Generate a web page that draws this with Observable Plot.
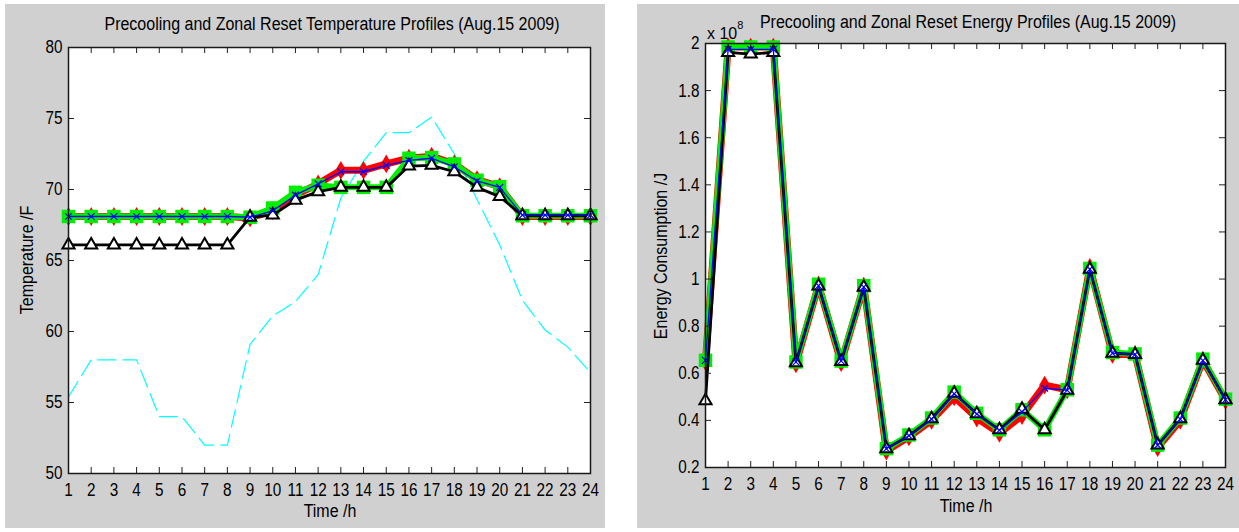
<!DOCTYPE html>
<html>
<head>
<meta charset="utf-8">
<script src="https://cdn.jsdelivr.net/npm/d3@7"></script>
<script src="https://cdn.jsdelivr.net/npm/@observablehq/plot@0.6"></script>
<style>
  body { margin: 0; background: #fff; width: 1239px; height: 532px; overflow: hidden; position: relative;
         font-family: "Liberation Sans", Arial, sans-serif; color: #000; }
  .panel { position: absolute; background: #d0d0d0; }
  .txt { position: absolute; font-size: 16px; line-height: 16px; white-space: nowrap; }
  .center { transform: translateX(-50%) scaleY(1.1); }
  .ylab { transform: translate(-50%, -50%) rotate(-90deg) scaleY(1.1); }
  .chart { position: absolute; }
  sup { font-size: 11px; position: relative; top: -4px; }
</style>
</head>
<body>
<div class="panel" style="left:5px;top:4px;width:600px;height:524px"></div>
<div class="panel" style="left:637px;top:4px;width:602px;height:524px"></div>

<div class="txt center" style="left:332px;top:16px">Precooling and Zonal Reset Temperature Profiles (Aug.15 2009)</div>
<div class="txt center" style="left:968px;top:14px">Precooling and Zonal Reset Energy Profiles (Aug.15 2009)</div>
<div class="txt" style="left:707px;top:21px">x 10<sup>8</sup></div>

<div class="chart" id="temp" style="left:5px;top:36px"></div>
<div class="chart" id="energy" style="left:637px;top:32px"></div>

<div class="txt center" style="left:330px;top:503px">Time /h</div>
<div class="txt center" style="left:966px;top:498px">Time /h</div>
<div class="txt ylab" style="left:27px;top:260px">Temperature /F</div>
<div class="txt ylab" style="left:661px;top:256px">Energy Consumption /J</div>

<script>
// Hour of day
const hours = [1, 2, 3, 4, 5, 6, 7, 8, 9, 10, 11, 12, 13, 14, 15, 16, 17, 18, 19, 20, 21, 22, 23, 24];

// Zone temperature profiles (°F)
const tempRed   = [68.1, 68.1, 68.1, 68.1, 68.1, 68.1, 68.1, 68.1, 68.0, 68.5, 69.6, 70.4, 71.35, 71.35, 71.8, 72.2, 72.35, 71.8, 70.7, 70.2, 68.1, 68.1, 68.1, 68.1];
const tempGreen = [68.1, 68.1, 68.1, 68.1, 68.1, 68.1, 68.1, 68.1, 68.05, 68.7, 69.8, 70.3, 70.15, 70.15, 70.15, 72.2, 72.25, 71.8, 70.65, 70.2, 68.15, 68.15, 68.15, 68.15];
const tempBlack = [66.1, 66.1, 66.1, 66.1, 66.1, 66.1, 66.1, 66.1, 68.05, 68.2, 69.25, 69.85, 70.15, 70.15, 70.15, 71.65, 71.7, 71.25, 70.15, 69.5, 68.15, 68.15, 68.15, 68.15];
const tempBlue  = [68.1, 68.1, 68.1, 68.1, 68.1, 68.1, 68.1, 68.1, 68.05, 68.5, 69.6, 70.4, 71.25, 71.25, 71.7, 72.05, 72.2, 71.6, 70.6, 70.15, 68.2, 68.2, 68.2, 68.2];
// Outdoor dry-bulb temperature (°F)
const tempOutdoor = [55.4, 58, 58, 58, 54, 54, 52, 52, 59.1, 61.1, 62.1, 64, 69.4, 72, 74, 74, 75.1, 72.5, 69.3, 66.1, 62.2, 60.1, 58.9, 57.1];

// Hourly energy consumption (x 10^8 J)
const energyRed   = [0.65, 1.985, 1.985, 1.985, 0.64, 0.975, 0.645, 0.97, 0.27, 0.33, 0.40, 0.50, 0.41, 0.345, 0.42, 0.55, 0.53, 1.05, 0.68, 0.68, 0.285, 0.40, 0.655, 0.485];
const energyGreen = [0.655, 1.985, 1.985, 1.985, 0.648, 0.978, 0.652, 0.972, 0.28, 0.338, 0.41, 0.52, 0.43, 0.36, 0.445, 0.36, 0.53, 1.045, 0.688, 0.682, 0.295, 0.41, 0.66, 0.49];
const energyBlack = [0.483, 1.962, 1.955, 1.962, 0.645, 0.97, 0.65, 0.965, 0.28, 0.335, 0.407, 0.515, 0.428, 0.36, 0.447, 0.36, 0.528, 1.042, 0.685, 0.68, 0.295, 0.407, 0.655, 0.488];
const energyBlue  = [0.655, 1.975, 1.975, 1.975, 0.648, 0.972, 0.652, 0.966, 0.28, 0.335, 0.405, 0.513, 0.427, 0.358, 0.436, 0.537, 0.528, 1.042, 0.685, 0.68, 0.295, 0.405, 0.654, 0.488];

// Axis ticks
const hourTicks = [1, 2, 3, 4, 5, 6, 7, 8, 9, 10, 11, 12, 13, 14, 15, 16, 17, 18, 19, 20, 21, 22, 23, 24];
const tempTicks = [50, 55, 60, 65, 70, 75, 80];
const energyTicks = [0.2, 0.4, 0.6, 0.8, 1, 1.2, 1.4, 1.6, 1.8, 2];

const FONT = '"Liberation Sans", Arial, sans-serif';
const rows = (vals) => hours.map((h, i) => ({h, v: vals[i]}));

// One MATLAB-style series: connecting line plus its markers
function series(vals, s) {
  const data = rows(vals);
  const out = [Plot.line(data, {x: "h", y: "v", stroke: s.color, strokeWidth: s.lw, strokeLinejoin: "round", strokeLinecap: "round"})];
  if (s.symbol) {
    out.push(Plot.dot(data, {x: "h", y: "v", symbol: s.symbol, r: s.r,
      fill: s.fill ?? "none", stroke: s.stroke ?? "none", strokeWidth: s.sw ?? 1}));
  }
  return out;
}

function chart({width, height, margins, yDomain, yTicks, extra, sets}) {
  const [mt, mr, mb, ml] = margins;
  const innerW = width - ml - mr;
  const innerH = height - mt - mb;
  const tick = 6;
  const svg = Plot.plot({
    width, height,
    marginTop: mt, marginRight: mr, marginBottom: mb, marginLeft: ml,
    style: {background: "transparent", fontFamily: FONT, fontSize: "17px", color: "#000"},
    x: {domain: [1, 24], label: null},
    y: {domain: yDomain, label: null},
    marks: [
      Plot.frame({fill: "#fff", stroke: "none"}),
      ...(extra || []),
      ...sets.flatMap(([vals, s]) => series(vals, s)),
      // inward ticks on all four sides
      Plot.tickX(hourTicks, {x: d => d, insetTop: innerH - tick, stroke: "#222"}),
      Plot.tickX(hourTicks, {x: d => d, insetBottom: innerH - tick, stroke: "#222"}),
      Plot.tickY(yTicks, {y: d => d, insetRight: innerW - tick, stroke: "#222"}),
      Plot.tickY(yTicks, {y: d => d, insetLeft: innerW - tick, stroke: "#222"}),
      Plot.axisX({ticks: hourTicks, tickSize: 0, tickPadding: 9, label: null, tickFormat: d => String(d)}),
      Plot.axisY({ticks: yTicks, tickSize: 0, tickPadding: 6, label: null, tickFormat: d => String(d)}),
      Plot.frame({stroke: "#1a1a1a", strokeWidth: 1.5})
    ]
  });
  // slightly tall, narrow lettering for the tick labels
  d3.select(svg).selectAll("g[aria-label$='tick label'] text")
    .attr("transform", function () { return (this.getAttribute("transform") || "") + " scale(0.9,1.1)"; });
  return svg;
}

const styles = {
  red:   {color: "#ff0000", lw: 7,   symbol: "diamond",  r: 5.7, fill: "#ff0000"},
  green: {color: "#00ee00", lw: 6,   symbol: "square",   r: 7.6, fill: "#00ee00"},
  black: {color: "#000000", lw: 2.8, symbol: "triangle", r: 4.5, fill: "#ffffff", stroke: "#000", sw: 2},
  blue:  {color: "#0000ff", lw: 1.3, symbol: "times",    r: 3.2, stroke: "#0000ff", sw: 1.2}
};

document.getElementById("temp").append(chart({
  width: 600, height: 492, margins: [11, 15, 55, 63],
  yDomain: [50, 80], yTicks: tempTicks,
  extra: [Plot.line(rows(tempOutdoor), {x: "h", y: "v", stroke: "#00ffff", strokeWidth: 1.2, strokeDasharray: "18,7"})],
  sets: [[tempRed, styles.red], [tempGreen, styles.green], [tempBlack, styles.black], [tempBlue, styles.blue]]
}));

document.getElementById("energy").append(chart({
  width: 602, height: 496, margins: [11, 14, 61, 68],
  yDomain: [0.2, 2], yTicks: energyTicks,
  sets: [[energyRed, styles.red], [energyGreen, styles.green], [energyBlack, styles.black], [energyBlue, styles.blue]]
}));
</script>
</body>
</html>
